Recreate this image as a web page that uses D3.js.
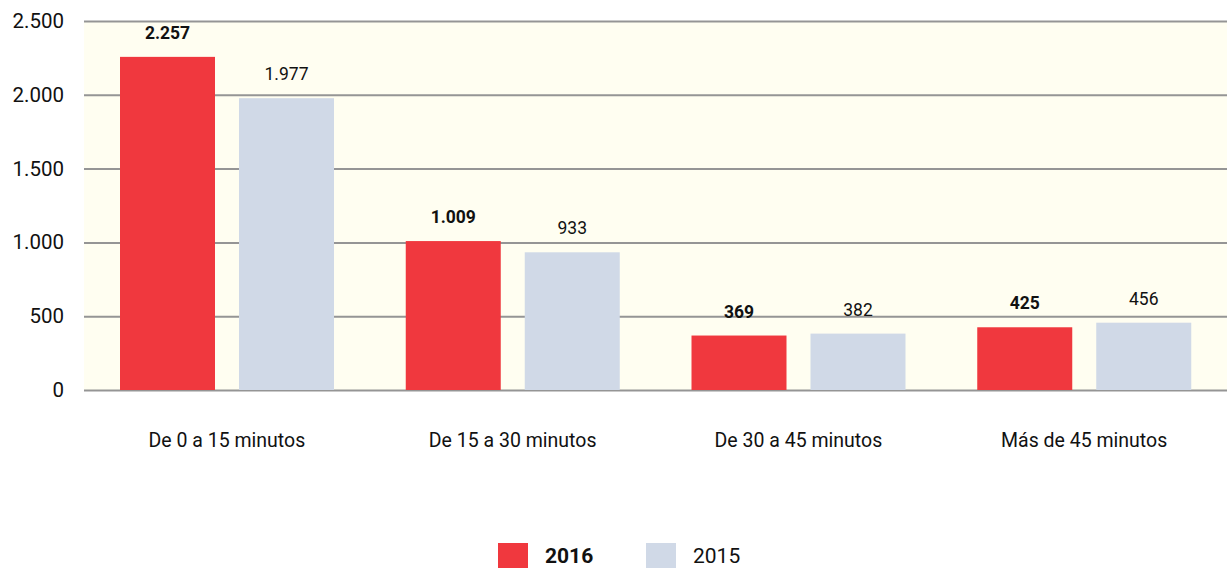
<!DOCTYPE html>
<html>
<head>
<meta charset="utf-8">
<script src="https://cdn.jsdelivr.net/npm/d3@7"></script>
<style>
  body { margin: 0; background: #fff; }
  text { font-family: Roboto, "Liberation Sans", sans-serif; fill: #111; }
</style>
</head>
<body>
<svg id="chart" width="1231" height="570"></svg>
<script>
const categories = ['De 0 a 15 minutos', 'De 15 a 30 minutos', 'De 30 a 45 minutos', 'Más de 45 minutos'];
const series = ['2016', '2015'];
const values2016 = [2257, 1009, 369, 425];
const values2015 = [1977, 933, 382, 456];
const yTicks = [0, 500, 1000, 1500, 2000, 2500];

const colors = {'2016': '#f0383e', '2015': '#d0d9e7'};

const esFormat = d3.formatLocale({decimal: ',', thousands: '.', grouping: [3], currency: ['', '€']}).format(',d');

const svg = d3.select('#chart');
const plotLeft = 84, plotRight = 1227, plotTop = 21, plotBottom = 390;

const x0 = d3.scaleBand().domain(categories).range([plotLeft, plotRight]);
const x1 = d3.scaleBand().domain(series).range([36, 250]).paddingInner(24 / 119);
const y = d3.scaleLinear().domain([0, 2500]).range([plotBottom, plotTop]);

// plot background
svg.append('rect')
  .attr('x', plotLeft).attr('y', y(2500))
  .attr('width', plotRight - plotLeft).attr('height', y(0) - y(2500))
  .attr('fill', '#fffef1');

// gridlines + tick labels
const yAxis = svg.append('g')
  .attr('transform', 'translate(' + plotLeft + ',0)')
  .call(d3.axisLeft(y).tickValues(yTicks).tickSize(-(plotRight - plotLeft)).tickPadding(20).tickFormat(esFormat));
yAxis.select('.domain').remove();
yAxis.selectAll('line').attr('stroke', '#959595').attr('stroke-width', 2);
yAxis.selectAll('text').attr('font-size', 20.5).attr('fill', '#111');

// bars
const rows = categories.map((c, i) => ({cat: c, vals: [{s: '2016', v: values2016[i]}, {s: '2015', v: values2015[i]}]}));
const groups = svg.selectAll('g.grp').data(rows).join('g')
  .attr('class', 'grp')
  .attr('transform', d => 'translate(' + x0(d.cat) + ',0)');

groups.selectAll('rect').data(d => d.vals).join('rect')
  .attr('x', d => x1(d.s))
  .attr('y', d => y(d.v))
  .attr('width', x1.bandwidth())
  .attr('height', d => y(0) - y(d.v))
  .attr('fill', d => colors[d.s]);

groups.selectAll('text.val').data(d => d.vals).join('text')
  .attr('class', 'val')
  .attr('x', d => x1(d.s) + x1.bandwidth() / 2)
  .attr('y', d => y(d.v) - 24)
  .attr('dy', '0.35em')
  .attr('text-anchor', 'middle')
  .attr('font-size', 17.5)
  .attr('font-weight', d => d.s === '2016' ? 'bold' : 'normal')
  .text(d => esFormat(d.v));

// category labels
svg.selectAll('text.cat').data(categories).join('text')
  .attr('class', 'cat')
  .attr('x', d => x0(d) + x0.bandwidth() / 2)
  .attr('y', 440)
  .attr('dy', '0.35em')
  .attr('text-anchor', 'middle')
  .attr('font-size', 19.5)
  .text(d => d);

// legend
const legend = svg.append('g').attr('transform', 'translate(498,543)');
series.forEach((s, i) => {
  const g = legend.append('g').attr('transform', 'translate(' + (i * 148) + ',0)');
  g.append('rect').attr('width', 30).attr('height', 25).attr('fill', colors[s]);
  g.append('text').attr('x', 47).attr('y', 13).attr('dy', '0.35em')
    .attr('font-size', 21).attr('font-weight', s === '2016' ? 'bold' : 'normal').text(s);
});
</script>
</body>
</html>
